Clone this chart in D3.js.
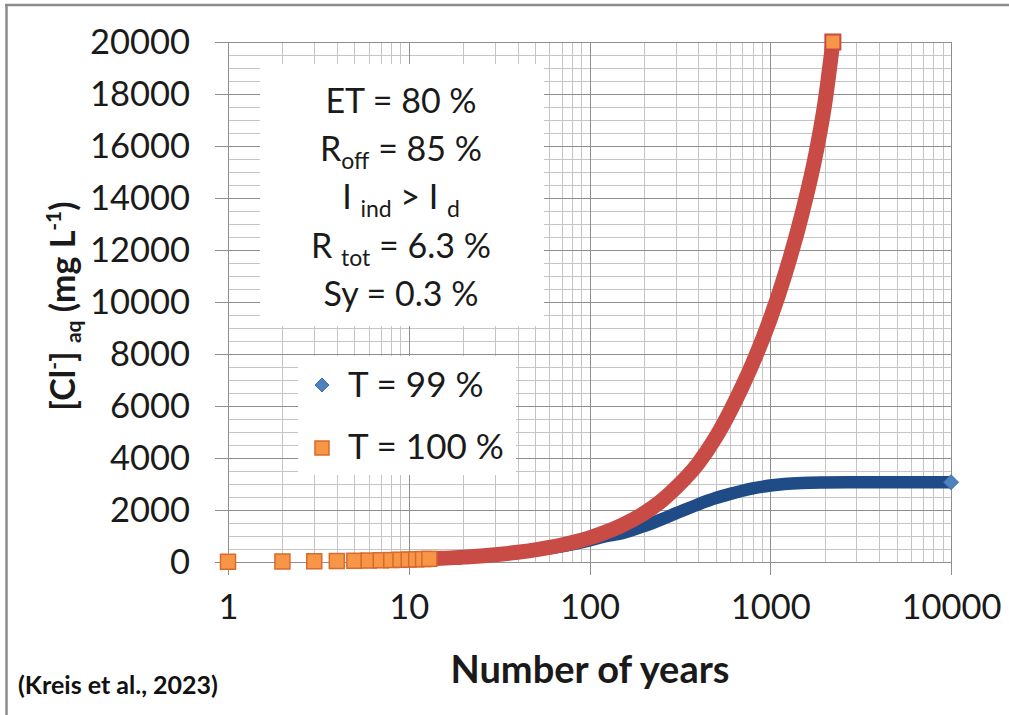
<!DOCTYPE html>
<html>
<head>
<meta charset="utf-8">
<script src="https://cdn.jsdelivr.net/npm/d3@7"></script>
<style>
  html, body { margin: 0; padding: 0; background: #fff; }
  svg { display: block; font-family: Lato, "Open Sans", sans-serif; }
</style>
</head>
<body>
<svg id="chart" width="1009" height="715"></svg>
<script>
// Chloride concentration over time, T = 100 %
const years100 = [1,2,3,4,5,6,7,8,9,10,11,12,13,14,15,16,17,18,19,20,25,30,40,50,60,70,80,100,120,150,200,250,300,400,500,600,700,800,1000,1200,1500,1800,2000,2220];
const conc100  = [9,19,28,37,47,56,65,75,84,93,103,112,121,131,140,149,159,168,177,187,233,280,373,466,560,653,746,930,1120,1400,1870,2350,2850,3800,4800,5800,6750,7650,9350,11000,13400,15800,17600,20000];

// Chloride concentration over time, T = 99 %
const years99 = [1,2,3,4,5,6,7,8,9,10,11,12,13,14,15,16,17,18,19,20,25,30,40,50,60,70,80,100,120,150,200,250,300,400,500,600,700,800,1000,1200,1500,2000,3000,5000,10000];
const conc99  = [9,19,28,37,46,56,65,74,83,92,101,110,119,128,137,146,155,164,172,181,226,270,356,440,522,602,680,830,975,1100,1380,1640,1870,2220,2460,2620,2740,2830,2940,3000,3040,3060,3070,3070,3070];

const seriesNames = ["T = 99 %", "T = 100 %"];

const xTickValues = [1, 10, 100, 1000, 10000];
const xTickLabels = ["1", "10", "100", "1000", "10000"];
const yTickValues = [0, 2000, 4000, 6000, 8000, 10000, 12000, 14000, 16000, 18000, 20000];
const yTickLabels = ["0", "2000", "4000", "6000", "8000", "10000", "12000", "14000", "16000", "18000", "20000"];

const xTitle = "Number of years";
const citation = "(Kreis et al., 2023)";

// Model parameters shown in the box; each line is a list of [text, isSubscript]
const paramLines = [
  [["ET = 80 %", false]],
  [["R", false], ["off", true], [" = 85 %", false]],
  [["I ", false], ["ind", true], [" > I ", false], ["d", true]],
  [["R ", false], ["tot", true], [" = 6.3 %", false]],
  [["Sy = 0.3 %", false]]
];

const svg = d3.select("#chart");

// outer frame (left and top edges)
svg.append("line").attr("x1", 6.5).attr("x2", 6.5).attr("y1", 4).attr("y2", 715)
  .attr("stroke", "#8c8c8c").attr("stroke-width", 2.5);
svg.append("line").attr("x1", 5).attr("x2", 1009).attr("y1", 5).attr("y2", 5)
  .attr("stroke", "#8c8c8c").attr("stroke-width", 2.5);

const x = d3.scaleLog().domain([1, 10000]).range([228, 951]);
const y = d3.scaleLinear().domain([0, 20000]).range([562, 42]);

// grid
const grid = svg.append("g");
const minorX = [];
for (let d = 1; d < 10000; d *= 10) for (let k = 2; k <= 9; k++) minorX.push(k * d);
const minorY = d3.range(0, 20001, 500).filter(v => v % 2000 !== 0);

grid.selectAll(".mx").data(minorX).join("line")
  .attr("x1", d => Math.round(x(d)) + 0.5).attr("x2", d => Math.round(x(d)) + 0.5)
  .attr("y1", y(20000)).attr("y2", y(0))
  .attr("stroke", "#c4c4c4").attr("stroke-width", 1);
grid.selectAll(".my").data(minorY).join("line")
  .attr("x1", x(1)).attr("x2", x(10000))
  .attr("y1", d => Math.round(y(d)) + 0.5).attr("y2", d => Math.round(y(d)) + 0.5)
  .attr("stroke", "#c4c4c4").attr("stroke-width", 1);
grid.selectAll(".My").data(yTickValues).join("line")
  .attr("x1", x(1) - 13).attr("x2", x(10000))
  .attr("y1", d => Math.round(y(d)) + 0.5).attr("y2", d => Math.round(y(d)) + 0.5)
  .attr("stroke", "#8e8e8e").attr("stroke-width", 1);
grid.selectAll(".Mx").data(xTickValues).join("line")
  .attr("x1", d => Math.round(x(d)) + 0.5).attr("x2", d => Math.round(x(d)) + 0.5)
  .attr("y1", y(20000)).attr("y2", y(0) + 13)
  .attr("stroke", "#8e8e8e").attr("stroke-width", 1);

// axes (labels only; ticks are part of the grid)
const yAxis = d3.axisLeft(y).tickValues(yTickValues)
  .tickFormat((d, i) => yTickLabels[i]).tickSize(0).tickPadding(38);
svg.append("g").attr("transform", `translate(${x(1)},0)`).call(yAxis)
  .call(g => g.select(".domain").remove())
  .call(g => g.selectAll("text").attr("font-size", 34.5).attr("font-family", "Lato").attr("fill", "#1a1a1a"));

const xAxis = d3.axisBottom(x).tickValues(xTickValues)
  .tickFormat((d, i) => xTickLabels[i]).tickSize(0).tickPadding(33);
svg.append("g").attr("transform", `translate(0,${y(0)})`).call(xAxis)
  .call(g => g.select(".domain").remove())
  .call(g => g.selectAll("text").attr("font-size", 34.5).attr("font-family", "Lato").attr("fill", "#1a1a1a"));

// white boxes behind the parameter text and legend
svg.append("rect").attr("x", 260).attr("y", 64).attr("width", 284).attr("height", 262).attr("fill", "#fff");
svg.append("rect").attr("x", 298).attr("y", 356).attr("width", 218).attr("height", 119).attr("fill", "#fff");

// series
const d100 = years100.map((t, i) => ({ t, v: conc100[i] }));
const d99 = years99.map((t, i) => ({ t, v: conc99[i] }));
const line = d3.line().x(d => x(d.t)).y(d => y(d.v)).curve(d3.curveMonotoneX);
const bandStart = 14;

const blueBand = "#1f4b87", blueFill = "#4f81bd";
const redBand = "#c84b45", orangeFill = "#f79646", orangeEdge = "#d9692c";

const diamond = (cx, cy, r) => `M${cx},${cy - r}L${cx + r},${cy}L${cx},${cy + r}L${cx - r},${cy}Z`;

const g99 = svg.append("g");
g99.selectAll("path.pt").data(d99.filter(d => d.t < bandStart)).join("path").attr("class", "pt")
  .attr("d", d => diamond(x(d.t), y(d.v), 7)).attr("fill", blueFill).attr("stroke", blueBand).attr("stroke-width", 1);
g99.append("path").datum(d99.filter(d => d.t >= bandStart - 1)).attr("d", line)
  .attr("fill", "none").attr("stroke", blueBand).attr("stroke-width", 12.5);
g99.append("path").datum(d99[d99.length - 1])
  .attr("d", d => diamond(x(d.t), y(d.v), 7.5)).attr("fill", blueFill).attr("stroke", "#3f6fae").attr("stroke-width", 1);

const g100 = svg.append("g");
g100.append("path").datum(d100.filter(d => d.t >= bandStart - 1)).attr("d", line)
  .attr("fill", "none").attr("stroke", redBand).attr("stroke-width", 15);
g100.selectAll("rect.pt").data(d100.filter(d => d.t < bandStart)).join("rect").attr("class", "pt")
  .attr("x", d => x(d.t) - 7.5).attr("y", d => y(d.v) - 7.5).attr("width", 15).attr("height", 15)
  .attr("fill", orangeFill).attr("stroke", orangeEdge).attr("stroke-width", 1.5);
g100.append("rect").datum(d100[d100.length - 1])
  .attr("x", d => x(d.t) - 7.5).attr("y", d => y(d.v) - 7.5).attr("width", 15).attr("height", 15)
  .attr("fill", orangeFill).attr("stroke", redBand).attr("stroke-width", 2);

// parameter text
const params = svg.append("g").attr("font-size", 34).attr("fill", "#1a1a1a");
paramLines.forEach((segs, i) => {
  const t = params.append("text").attr("x", 401).attr("y", 113 + i * 48.2).attr("text-anchor", "middle");
  let shift = 0;
  segs.forEach(([txt, sub]) => {
    const target = sub ? 8 : 0;
    t.append("tspan").attr("dy", target - shift).attr("font-size", sub ? 23 : 34).text(txt);
    shift = target;
  });
});

// legend
const legend = svg.append("g").attr("font-size", 35).attr("fill", "#1a1a1a");
legend.append("path").attr("d", diamond(322, 385, 7)).attr("fill", blueFill).attr("stroke", "#3f6fae").attr("stroke-width", 1);
legend.append("rect").attr("x", 315).attr("y", 441).attr("width", 14).attr("height", 14)
  .attr("fill", orangeFill).attr("stroke", orangeEdge).attr("stroke-width", 1.5);
legend.append("text").attr("x", 348).attr("y", 397).text(seriesNames[0]);
legend.append("text").attr("x", 348).attr("y", 459).text(seriesNames[1]);

// axis titles
svg.append("text").attr("x", 590).attr("y", 683).attr("text-anchor", "middle")
  .attr("font-size", 38).attr("font-weight", 700).attr("fill", "#1a1a1a").text(xTitle);

const yl = svg.append("text").attr("transform", "translate(75,306) rotate(-90)")
  .attr("text-anchor", "middle").attr("font-size", 34).attr("font-weight", 700).attr("fill", "#1a1a1a");
yl.append("tspan").text("[Cl");
yl.append("tspan").attr("font-size", 21).attr("dy", -14).text("-");
yl.append("tspan").attr("dy", 14).text("] ");
yl.append("tspan").attr("font-size", 21).attr("dy", 6).text("aq");
yl.append("tspan").attr("dy", -6).text(" (mg L");
yl.append("tspan").attr("font-size", 21).attr("dy", -14).text("-1");
yl.append("tspan").attr("dy", 14).text(")");

svg.append("text").attr("x", 18).attr("y", 694).attr("font-size", 25).attr("font-weight", 700)
  .attr("fill", "#111").text(citation);
</script>
</body>
</html>
